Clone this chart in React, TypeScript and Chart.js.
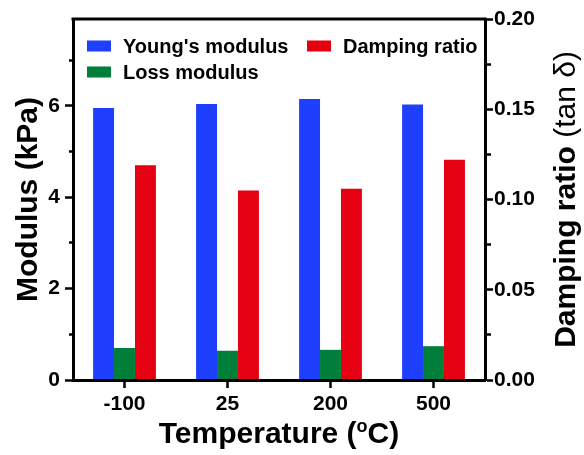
import { useEffect, useRef } from 'react';
import { Chart, registerables } from 'chart.js';

Chart.register(...registerables);

const categories = ['-100', '25', '200', '500'];
const seriesLabels = ["Young's modulus", 'Loss modulus', 'Damping ratio'];
const youngsModulus = [5.95, 6.04, 6.15, 6.03];
const lossModulus = [0.7, 0.64, 0.66, 0.74];
const dampingRatio = [0.119, 0.105, 0.106, 0.122];
const seriesColors = ['#1F3FFF', '#007F3B', '#E50012'];
const modulusMax = 7.9;
const modulusStep = 1;
const modulusLabelTicks = [0, 2, 4, 6];
const dampingMax = 0.2;
const dampingStep = 0.025;
const xTitle = 'Temperature (';
const xTitleSup = 'o';
const xTitleEnd = 'C)';
const yTitle = 'Modulus (kPa)';
const y1TitleBold = 'Damping ratio ';
const y1TitleRegular = '(tan δ)';

const FAMILY = '"Liberation Sans", Arial, Helvetica, sans-serif';
const TICK_FONT = { family: FAMILY, size: 21, weight: 'bold' as const };

const decorPlugin = {
  id: 'decor',
  afterDraw(chart: any) {
    const { ctx, chartArea: a } = chart;
    ctx.save();
    // top frame line
    ctx.strokeStyle = '#000';
    ctx.lineWidth = 3;
    ctx.beginPath();
    ctx.moveTo(a.left - 1.5, a.top);
    ctx.lineTo(a.right + 1.5, a.top);
    ctx.stroke();

    // legend
    const ds = chart.data.datasets;
    const slots = [
      { i: 0, dx: 14, dy: 27 },
      { i: 2, dx: 234, dy: 27 },
      { i: 1, dx: 14, dy: 53 },
    ];
    ctx.font = `bold 20px ${FAMILY}`;
    ctx.textBaseline = 'middle';
    ctx.textAlign = 'left';
    for (const s of slots) {
      const x = a.left + s.dx;
      const y = a.top + s.dy;
      ctx.fillStyle = ds[s.i].backgroundColor;
      ctx.fillRect(x, y - 5.5, 24, 11);
      ctx.fillStyle = '#000';
      ctx.fillText(ds[s.i].label, x + 36, y + 1);
    }

    // x title with superscript
    const cx = (a.left + a.right) / 2;
    const mainFont = `bold 30px ${FAMILY}`;
    const supFont = `bold 18px ${FAMILY}`;
    ctx.textBaseline = 'alphabetic';
    ctx.font = mainFont;
    const w1 = ctx.measureText(xTitle).width;
    const w3 = ctx.measureText(xTitleEnd).width;
    ctx.font = supFont;
    const w2 = ctx.measureText(xTitleSup).width;
    let x0 = cx - (w1 + w2 + w3) / 2;
    const by = 443;
    ctx.font = mainFont;
    ctx.fillText(xTitle, x0, by);
    x0 += w1;
    ctx.font = supFont;
    ctx.fillText(xTitleSup, x0, by - 11);
    x0 += w2;
    ctx.font = mainFont;
    ctx.fillText(xTitleEnd, x0, by);

    // left y title
    const cy = (a.top + a.bottom) / 2;
    ctx.save();
    ctx.translate(36.5, cy);
    ctx.rotate(-Math.PI / 2);
    ctx.font = mainFont;
    ctx.textAlign = 'center';
    ctx.fillText(yTitle, 0, 0);
    ctx.restore();

    // right y title (bold + regular)
    ctx.save();
    ctx.translate(574.5, cy);
    ctx.rotate(-Math.PI / 2);
    ctx.textAlign = 'left';
    const boldF = `bold 30px ${FAMILY}`;
    const regF = `30px ${FAMILY}`;
    ctx.font = boldF;
    const rb = ctx.measureText(y1TitleBold).width;
    ctx.font = regF;
    const rr = ctx.measureText(y1TitleRegular).width;
    const sx = -(rb + rr) / 2;
    ctx.font = boldF;
    ctx.fillText(y1TitleBold, sx, 0);
    ctx.font = regF;
    ctx.fillText(y1TitleRegular, sx + rb, 0);
    ctx.restore();

    ctx.restore();
  },
};

export default function App() {
  const canvasRef = useRef<HTMLCanvasElement | null>(null);

  useEffect(() => {
    document.body.style.margin = '0';
    const canvas = canvasRef.current;
    if (!canvas) return;
    const isMinorMod = (v: number) => !modulusLabelTicks.includes(Math.round(v * 1000) / 1000);
    const isMinorDamp = (v: number) => Math.round(v / dampingStep) % 2 !== 0;

    const chart = new Chart(canvas, {
      type: 'bar',
      data: {
        labels: categories,
        datasets: [
          { label: seriesLabels[0], data: youngsModulus, backgroundColor: seriesColors[0], yAxisID: 'y' },
          { label: seriesLabels[1], data: lossModulus, backgroundColor: seriesColors[1], yAxisID: 'y' },
          { label: seriesLabels[2], data: dampingRatio, backgroundColor: seriesColors[2], yAxisID: 'y1' },
        ],
      },
      options: {
        animation: false,
        responsive: true,
        maintainAspectRatio: false,
        layout: { padding: { top: 19, left: 0, right: 0, bottom: 0 } },
        datasets: { bar: { barPercentage: 1, categoryPercentage: 0.61, borderWidth: 0 } },
        plugins: { legend: { display: false }, tooltip: { enabled: false } },
        scales: {
          x: {
            type: 'category',
            afterFit: (s: any) => { s.height = 75; },
            grid: { display: true, offset: false, drawOnChartArea: false, tickLength: 8, tickWidth: 2.5, tickColor: '#000' },
            border: { display: true, color: '#000', width: 3, z: 1 },
            ticks: { color: '#000', font: TICK_FONT, padding: 4, maxRotation: 0 },
          },
          y: {
            type: 'linear',
            position: 'left',
            min: 0,
            max: modulusMax,
            afterFit: (s: any) => { s.width = 73; },
            grid: {
              drawOnChartArea: false,
              tickLength: 8,
              tickWidth: 2.5,
              tickColor: '#000',
              tickBorderDash: (c: any) => (c.tick && isMinorMod(c.tick.value) ? [0, 4, 4, 100] : []),
            },
            border: { display: true, color: '#000', width: 3, z: 1 },
            ticks: {
              stepSize: modulusStep,
              includeBounds: false,
              color: '#000',
              font: TICK_FONT,
              padding: 5,
              callback: (v: any) => (isMinorMod(Number(v)) ? '' : String(v)),
            },
          },
          y1: {
            type: 'linear',
            position: 'right',
            min: 0,
            max: dampingMax,
            afterFit: (s: any) => { s.width = 99; },
            grid: {
              drawOnChartArea: false,
              tickLength: 8,
              tickWidth: 2.5,
              tickColor: '#000',
              tickBorderDash: (c: any) => (c.tick && isMinorDamp(c.tick.value) ? [4, 100] : []),
            },
            border: { display: true, color: '#000', width: 3, z: 1 },
            ticks: {
              stepSize: dampingStep,
              includeBounds: false,
              color: '#000',
              font: TICK_FONT,
              padding: 1,
              callback: (v: any) => (isMinorDamp(Number(v)) ? '' : Number(v).toFixed(2)),
            },
          },
        },
      },
      plugins: [decorPlugin],
    } as any);
    return () => chart.destroy();
  }, []);

  return (
    <div style={{ width: 584, height: 455, position: 'relative' }}>
      <canvas ref={canvasRef} />
    </div>
  );
}
